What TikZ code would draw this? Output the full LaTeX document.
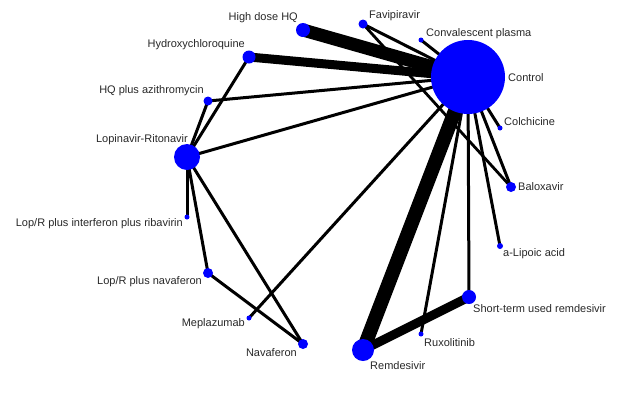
\documentclass[tikz,border=0pt]{standalone}
\usepackage{fontspec}
\setmainfont{Liberation Sans}
\pgfdeclarelayer{bg}
\pgfsetlayers{bg,main}
\definecolor{nodeblue}{RGB}{0,0,255}
\definecolor{lbl}{RGB}{40,40,40}
\begin{document}
\begin{tikzpicture}[x=1pt,y=-1pt,
  nd/.style={circle,fill=nodeblue,inner sep=0pt,minimum size=#1},
  lab/.style={text=lbl,font=\fontsize{11}{13}\selectfont,inner sep=0pt},
  e/.style={line width=#1,draw=black},
  e/.default=3]
\useasboundingbox (0,0) rectangle (629,416);
% nodes
\node[nd=74] (ctrl) at (468,77) {};
\node[nd=14] (hdhq) at (303,30) {};
\node[nd=13] (hcq) at (249,57) {};
\node[nd=9] (hqaz) at (208,101) {};
\node[nd=26] (lpr) at (187,157) {};
\node[nd=9] (fav) at (363,24) {};
\node[nd=5] (conv) at (421,40) {};
\node[nd=5] (colc) at (500,128) {};
\node[nd=10] (balo) at (511,187) {};
\node[nd=6] (alip) at (500,246) {};
\node[nd=14] (strd) at (469,297) {};
\node[nd=5] (ruxo) at (421,334) {};
\node[nd=22] (remd) at (363,350) {};
\node[nd=10] (nava) at (303,344) {};
\node[nd=5] (mepl) at (249,318) {};
\node[nd=10] (lprn) at (208,273) {};
\node[nd=5] (lpri) at (187,217) {};
% labels
\node[lab,anchor=east] (lhdhq) at (298,18) {High dose HQ};
\node[lab,anchor=east] (lhcq) at (245,45) {Hydroxychloroquine};
\node[lab,anchor=east] (lhqaz) at (204,91) {HQ plus azithromycin};
\node[lab,anchor=east] (llpr) at (188,140) {Lopinavir-Ritonavir};
\node[lab,anchor=west] (lfav) at (369,16) {Favipiravir};
\node[lab,anchor=west] (lconv) at (426,34) {Convalescent plasma};
\node[lab,anchor=west] (lctrl) at (508,78) {Control};
\node[lab,anchor=west] (lcolc) at (504,122) {Colchicine};
\node[lab,anchor=west] (lbalo) at (518,187) {Baloxavir};
\node[lab,anchor=west] (lalip) at (503,254) {a-Lipoic acid};
\node[lab,anchor=west] (lstrd) at (473,309) {Short-term used remdesivir};
\node[lab,anchor=west] (lruxo) at (424,343) {Ruxolitinib};
\node[lab,anchor=west] (lremd) at (370,366) {Remdesivir};
\node[lab,anchor=east] (lnava) at (297,353) {Navaferon};
\node[lab,anchor=east] (lmepl) at (245,324) {Meplazumab};
\node[lab,anchor=east] (llprn) at (202,282) {Lop/R plus navaferon};
\node[lab,anchor=east] (llpri) at (183,224) {Lop/R plus interferon plus ribavirin};
% edges
\begin{pgfonlayer}{bg}
\draw[e=13] (ctrl.center) -- (hdhq.center);
\draw[e=9] (ctrl.center) -- (hcq.center);
\draw[e] (ctrl.center) -- (hqaz.center);
\draw[e] (ctrl.center) -- (lpr.center);
\draw[e] (ctrl.center) -- (fav.center);
\draw[e] (ctrl.center) -- (conv.center);
\draw[e] (ctrl.center) -- (colc.center);
\draw[e] (ctrl.center) -- (balo.center);
\draw[e] (ctrl.center) -- (alip.center);
\draw[e] (ctrl.center) -- (strd.center);
\draw[e] (ctrl.center) -- (ruxo.center);
\draw[e=14] (ctrl.center) -- (remd.center);
\draw[e] (ctrl.center) -- (mepl.center);
\draw[e=2.8] (fav.center) -- (balo.center);
\draw[e] (hcq.center) -- (lpr.center);
\draw[e] (hqaz.center) -- (lpr.center);
\draw[e] (lpr.center) -- (lpri.center);
\draw[e] (lpr.center) -- (lprn.center);
\draw[e] (lpr.center) -- (nava.center);
\draw[e] (lprn.center) -- (nava.center);
\draw[e=9] (remd.center) -- (strd.center);
\end{pgfonlayer}
\end{tikzpicture}
\end{document}
